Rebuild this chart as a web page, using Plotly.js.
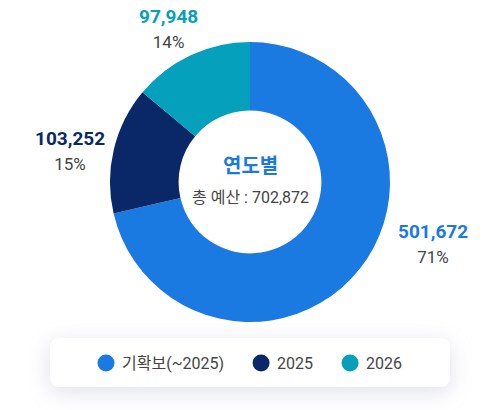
<!DOCTYPE html>
<html>
<head>
<meta charset="utf-8">
<script src="https://cdn.plot.ly/plotly-3.0.1.min.js"></script>
<style>
  html, body { margin: 0; padding: 0; background: #fff; }
  #chart { width: 502px; height: 410px; }
  #chart .shapelayer path { filter: drop-shadow(0 5px 11px rgba(110,120,165,0.22)); }
  #chart .legend path.legendpie { d: path("M16.5,0A8.5,8.5 0 1,1 -0.5,0A8.5,8.5 0 1,1 16.5,0Z"); }
</style>
</head>
<body>
<div id="chart"></div>
<script>
document.addEventListener('DOMContentLoaded', function () {
    var labels = ['기확보(~2025)', '2025', '2026'];
    var values = [501672, 103252, 97948];
    var colors = ['#1b79e2', '#0a2768', '#04a0bc'];
    var centerTitle = '연도별';
    var centerLabel = '총 예산';

    var W = 502, H = 410;
    function px(x) { return x / W; }
    function py(y) { return 1 - y / H; }

    var total = values.reduce(function (a, b) { return a + b; }, 0);
    function fmt(n) { return n.toLocaleString('en-US'); }

    var trace = {
        type: 'pie',
        labels: labels,
        values: values,
        hole: 0.51,
        sort: false,
        direction: 'clockwise',
        rotation: 0,
        textinfo: 'none',
        hoverinfo: 'label+value+percent',
        marker: { colors: colors, line: { width: 0 } },
        domain: { x: [px(110), px(390)], y: [py(322), py(42)] }
    };

    // label anchor points (pixels) for each slice
    var labelPos = [[433, 243], [70, 150], [168, 29]];
    var annotations = values.map(function (v, i) {
        var pct = Math.round(v / total * 100) + '%';
        return {
            xref: 'paper', yref: 'paper',
            x: px(labelPos[i][0]), y: py(labelPos[i][1]),
            xanchor: 'center', yanchor: 'middle',
            showarrow: false,
            align: 'center',
            font: { family: 'Roboto, "Noto Sans CJK KR", sans-serif', size: 19, color: colors[i] },
            text: '<b>' + fmt(v) + '</b><br><span style="font-size:17px;color:#444">' + pct + '</span>'
        };
    });
    annotations.push({
        xref: 'paper', yref: 'paper', x: px(250), y: py(166),
        xanchor: 'center', yanchor: 'middle', showarrow: false,
        font: { family: 'Roboto, "Noto Sans CJK KR", sans-serif', size: 20, color: colors[0] },
        text: '<b>' + centerTitle + '</b>'
    });
    annotations.push({
        xref: 'paper', yref: 'paper', x: px(250), y: py(197),
        xanchor: 'center', yanchor: 'middle', showarrow: false,
        font: { family: 'Roboto, "Noto Sans CJK KR", sans-serif', size: 16, color: '#444' },
        text: centerLabel + ' : ' + fmt(total)
    });

    // rounded legend box
    var bx0 = 50, bx1 = 450, by0 = 338, by1 = 387, r = 10;
    var boxPath = 'M' + px(bx0 + r) + ',' + py(by0) +
        ' L' + px(bx1 - r) + ',' + py(by0) +
        ' Q' + px(bx1) + ',' + py(by0) + ' ' + px(bx1) + ',' + py(by0 + r) +
        ' L' + px(bx1) + ',' + py(by1 - r) +
        ' Q' + px(bx1) + ',' + py(by1) + ' ' + px(bx1 - r) + ',' + py(by1) +
        ' L' + px(bx0 + r) + ',' + py(by1) +
        ' Q' + px(bx0) + ',' + py(by1) + ' ' + px(bx0) + ',' + py(by1 - r) +
        ' L' + px(bx0) + ',' + py(by0 + r) +
        ' Q' + px(bx0) + ',' + py(by0) + ' ' + px(bx0 + r) + ',' + py(by0) + ' Z';

    var layout = {
        width: W,
        height: H,
        margin: { l: 0, r: 0, t: 0, b: 0 },
        paper_bgcolor: '#fff',
        font: { family: 'Roboto, "Noto Sans CJK KR", sans-serif', color: '#444' },
        showlegend: true,
        legend: {
            orientation: 'h',
            x: px(241), xanchor: 'center',
            y: py(363), yanchor: 'middle',
            bgcolor: 'rgba(0,0,0,0)',
            itemwidth: 38,
            font: { size: 16, color: '#444' },
            traceorder: 'normal'
        },
        shapes: [{
            type: 'path', xref: 'paper', yref: 'paper', layer: 'below',
            path: boxPath, fillcolor: '#fff', line: { width: 0 }
        }],
        annotations: annotations
    };

    Plotly.newPlot('chart', [trace], layout, { displayModeBar: false, staticPlot: true });
});
</script>
</body>
</html>
